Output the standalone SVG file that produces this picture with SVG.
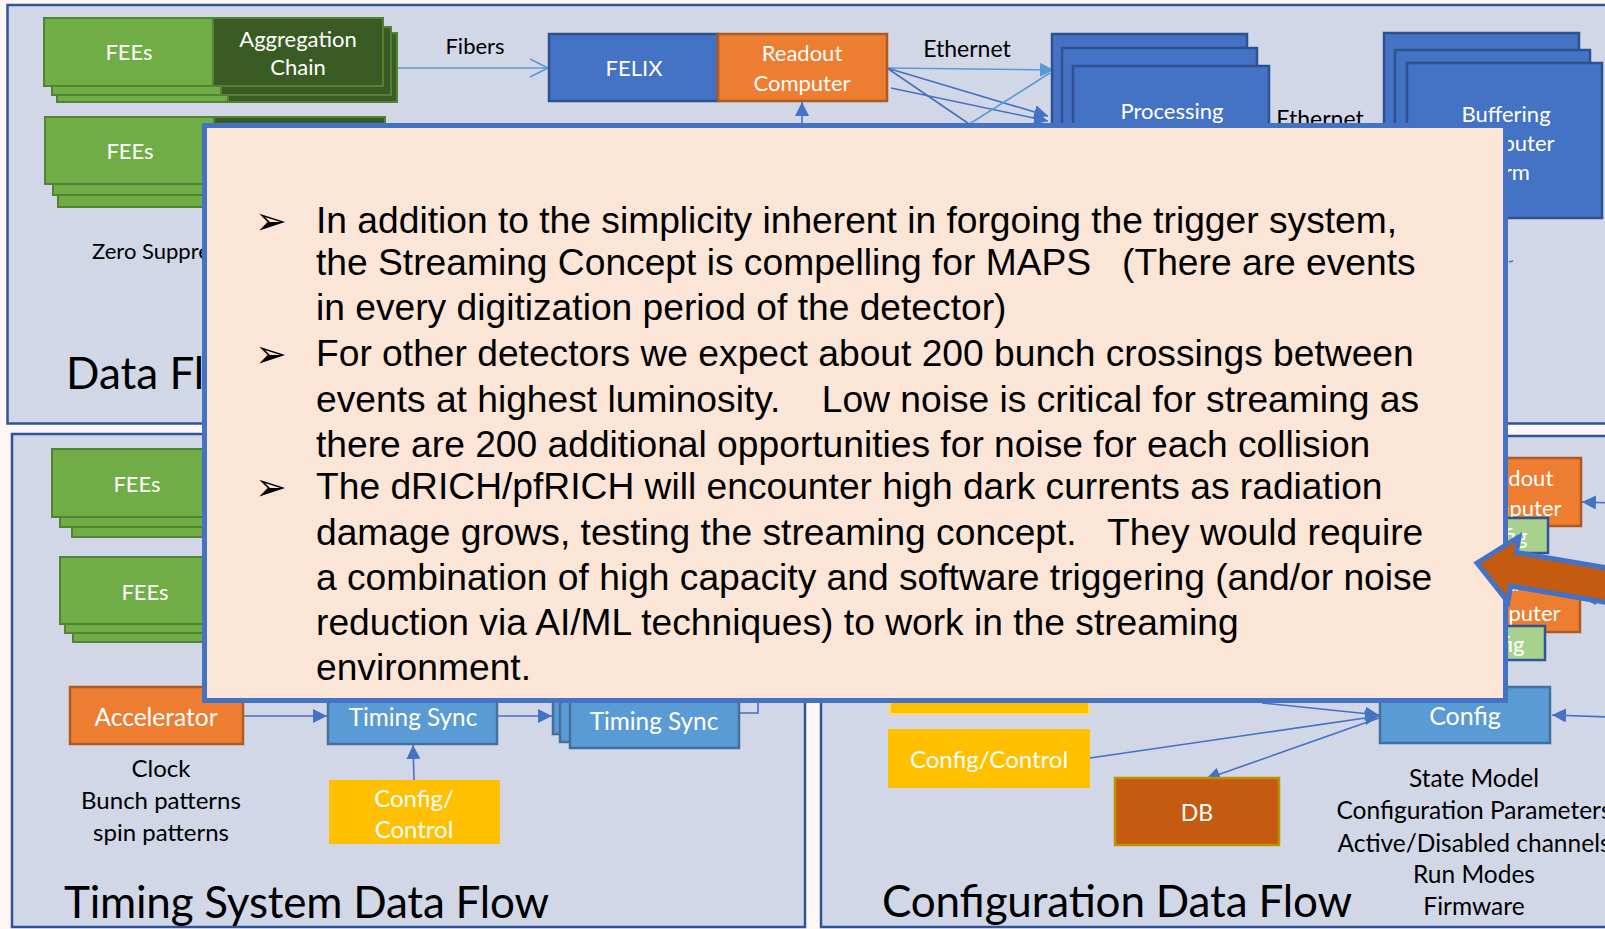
<svg xmlns="http://www.w3.org/2000/svg" width="1605" height="929" viewBox="0 0 1605 929">
<defs>
<style>
.panel{fill:#D1D7E7;stroke:#2F5597;stroke-width:2.5}
.fee{fill:#70AD47;stroke:#548235;stroke-width:2}
.agg{fill:#3A5C24;stroke:#548235;stroke-width:2}
.blue{fill:#4472C4;stroke:#2F528F;stroke-width:2.5}
.orange{fill:#ED7D31;stroke:#AE5A21;stroke-width:2.5}
.lblue{fill:#5B9BD5;stroke:#41719C;stroke-width:2.5}
.yellow{fill:#FFC000}
.green{fill:#A9D18E;stroke:#2F5597;stroke-width:2.5}
.w{font-family:Lato,"Open Sans",sans-serif;font-size:22px;fill:#FFFFFF;text-anchor:middle;dominant-baseline:central}
.k{font-family:Lato,"Open Sans",sans-serif;font-size:22px;fill:#000000;text-anchor:middle;dominant-baseline:central}
.n{font-family:Lato,"Open Sans",sans-serif;font-size:24.5px;fill:#000000;text-anchor:middle;dominant-baseline:central}
.title{font-family:Lato,"Open Sans",sans-serif;font-size:44px;fill:#000000}
.body{font-family:"Liberation Sans",Arial,sans-serif;font-size:37.2px;fill:#000000;white-space:pre}
.bul{font-family:"DejaVu Sans",sans-serif;font-size:38px;fill:#000000}
.cD{stroke:#4472C4;stroke-width:1.6;fill:none}
.cL{stroke:#5B9BD5;stroke-width:1.6;fill:none}
</style>
<marker id="aD" viewBox="0 0 10 10" refX="10" refY="5" markerWidth="14" markerHeight="14" markerUnits="userSpaceOnUse" orient="auto"><path d="M0,0 L10,5 L0,10 z" fill="#4472C4"/></marker>
<marker id="aL" viewBox="0 0 10 10" refX="10" refY="5" markerWidth="14" markerHeight="14" markerUnits="userSpaceOnUse" orient="auto"><path d="M0,0 L10,5 L0,10 z" fill="#5B9BD5"/></marker>
<marker id="aO" viewBox="0 0 20 20" refX="19" refY="10" markerWidth="20" markerHeight="20" markerUnits="userSpaceOnUse" orient="auto"><path d="M1,1 L19,10 L1,19" fill="none" stroke="#5B9BD5" stroke-width="1.6"/></marker>
</defs>
<rect x="0" y="0" width="1605" height="929" fill="#FEF6F4"/>

<g id="panel-dataflow">
<rect class="panel" x="7.5" y="5" width="1640" height="418.5"/>
<text class="title" x="66" y="389">Data Fl</text>
</g>
<g id="panel-timing">
<rect class="panel" x="12" y="434" width="793" height="493"/>
<text class="title" x="64" y="918" textLength="485">Timing System Data Flow</text>
</g>
<g id="panel-config">
<rect class="panel" x="821" y="436" width="820" height="491"/>
<text class="title" x="882" y="917" textLength="470">Configuration Data Flow</text>
</g>

<g id="connectors">
<line class="cL" x1="397" y1="68" x2="548" y2="68" marker-end="url(#aO)"/>
<line class="cD" x1="802" y1="126" x2="802" y2="102" marker-end="url(#aD)"/>
<line class="cL" x1="887" y1="68" x2="1054" y2="70" marker-end="url(#aL)"/>
<line class="cD" x1="887" y1="68" x2="1048" y2="116" marker-end="url(#aD)"/>
<line class="cD" x1="887" y1="68" x2="975" y2="128"/>
<line class="cD" x1="891" y1="88" x2="1048" y2="121" marker-end="url(#aD)"/>
<line class="cL" x1="963" y1="128" x2="1050" y2="73"/>
<path class="cD" d="M1509,262 l4,-1"/>
<line class="cD" x1="243" y1="716" x2="327" y2="716" marker-end="url(#aD)"/>
<line class="cD" x1="497" y1="716" x2="552" y2="716" marker-end="url(#aD)"/>
<line class="cD" x1="414" y1="780" x2="413" y2="745" marker-end="url(#aD)"/>
<path class="cD" d="M739,713 H758 V700"/>
<line class="cD" x1="1262" y1="703" x2="1379" y2="715" marker-end="url(#aD)"/>
<line class="cD" x1="1090" y1="758" x2="1379" y2="716" marker-end="url(#aD)"/>
<line class="cD" x1="1379" y1="718" x2="1206" y2="779" marker-end="url(#aD)"/>
<line class="cD" x1="1610" y1="717" x2="1552" y2="715" marker-end="url(#aD)"/>
<line class="cD" x1="1610" y1="503" x2="1582" y2="502" marker-end="url(#aD)"/>
<line class="cD" x1="1610" y1="598" x2="1582" y2="598" marker-end="url(#aD)"/>
</g>

<g id="fees-1">
<rect class="fee" x="57" y="33" width="171" height="69"/>
<rect class="fee" x="52" y="27" width="169" height="68"/>
<rect class="fee" x="44" y="18" width="169" height="68"/>
<text class="w" x="129" y="51">FEEs</text>
</g>
<g id="aggregation-1">
<rect class="agg" x="228" y="33" width="169" height="69"/>
<rect class="agg" x="221" y="27" width="170" height="68"/>
<rect class="agg" x="213" y="18" width="170" height="68"/>
<text class="w" x="298" y="38">Aggregation</text>
<text class="w" x="298" y="66">Chain</text>
</g>
<g id="fees-2">
<rect class="fee" x="58" y="133" width="171" height="74"/>
<rect class="fee" x="53" y="126" width="169" height="69"/>
<rect class="fee" x="45" y="117" width="169" height="67"/>
<text class="w" x="130" y="150">FEEs</text>
</g>
<g id="aggregation-2">
<rect class="agg" x="229" y="133" width="169" height="74"/>
<rect class="agg" x="222" y="126" width="170" height="69"/>
<rect class="agg" x="214" y="117" width="171" height="67"/>
</g>
<g id="zero-suppression">
<text class="k" x="92" y="250" style="text-anchor:start">Zero Suppression</text>
</g>
<g id="felix">
<rect class="blue" x="549" y="34" width="169" height="67"/>
<text class="w" x="634" y="67">FELIX</text>
</g>
<g id="readout-computer">
<rect class="orange" x="718" y="34" width="169" height="67"/>
<text class="w" x="802" y="52">Readout</text>
<text class="w" x="802" y="82">Computer</text>
</g>
<g id="labels-top">
<text class="k" x="475" y="45">Fibers</text>
<text class="k" x="967" y="48" style="font-size:23px">Ethernet</text>
<text class="k" x="1320" y="118" style="font-size:23px">Ethernet</text>
</g>
<g id="processing">
<rect class="blue" x="1052" y="34" width="195" height="200"/>
<rect class="blue" x="1062" y="48" width="195" height="200"/>
<rect class="blue" x="1073" y="66" width="196" height="200"/>
<text class="w" x="1172" y="110">Processing</text>
</g>
<g id="buffering">
<rect class="blue" x="1384" y="33" width="195" height="155"/>
<rect class="blue" x="1395" y="50" width="195" height="155"/>
<rect class="blue" x="1407" y="63" width="195" height="155"/>
<text class="w" x="1506" y="113">Buffering</text>
<text class="w" x="1506" y="142">Computer</text>
<text class="w" x="1506" y="171">Farm</text>
</g>

<g id="timing-fees-1">
<rect class="fee" x="72" y="470" width="170" height="67"/>
<rect class="fee" x="60" y="460" width="170" height="67"/>
<rect class="fee" x="52" y="449" width="170" height="68"/>
<text class="w" x="137" y="483">FEEs</text>
</g>
<g id="timing-fees-2">
<rect class="fee" x="73" y="575" width="170" height="67"/>
<rect class="fee" x="65" y="566" width="170" height="67"/>
<rect class="fee" x="60" y="557" width="170" height="67"/>
<text class="w" x="145" y="591">FEEs</text>
</g>
<g id="accelerator">
<rect class="orange" x="70" y="687" width="173" height="57"/>
<text class="w" x="156" y="716" style="font-size:24.5px">Accelerator</text>
</g>
<g id="accelerator-notes">
<text class="n" x="161" y="767" style="font-size:24px">Clock</text>
<text class="n" x="161" y="799" style="font-size:24px">Bunch patterns</text>
<text class="n" x="161" y="831" style="font-size:24px">spin patterns</text>
</g>
<g id="timing-sync-1">
<rect class="lblue" x="328" y="687" width="169" height="57"/>
<text class="w" x="413" y="716" style="font-size:24.3px">Timing Sync</text>
</g>
<g id="timing-sync-2">
<rect class="lblue" x="553" y="674" width="169" height="60"/>
<rect class="lblue" x="560" y="682" width="169" height="60"/>
<rect class="lblue" x="570" y="688" width="169" height="60"/>
<text class="w" x="654" y="720" style="font-size:24.3px">Timing Sync</text>
</g>
<g id="timing-config-control">
<rect class="yellow" x="329" y="780" width="171" height="64"/>
<text class="w" x="414" y="797" style="font-size:24px">Config/</text>
<text class="w" x="414" y="828" style="font-size:24px">Control</text>
</g>

<g id="config-control-hidden">
<rect class="yellow" x="890" y="650" width="199" height="64" stroke="#FFD966" stroke-width="2"/>
</g>
<g id="config-control">
<rect class="yellow" x="888" y="729" width="202" height="59"/>
<text class="w" x="989" y="758" style="font-size:24px">Config/Control</text>
</g>
<g id="db">
<rect x="1115" y="778" width="164" height="67" fill="#C55A11" stroke="#BF9000" stroke-width="2.5"/>
<text class="w" x="1197" y="812" style="font-size:23px">DB</text>
</g>
<g id="config">
<rect class="lblue" x="1380" y="687" width="170" height="56"/>
<text class="w" x="1465" y="715" style="font-size:25px">Config</text>
</g>
<g id="config-notes">
<text class="n" x="1474" y="777">State Model</text>
<text class="n" x="1474" y="809">Configuration Parameters</text>
<text class="n" x="1474" y="842">Active/Disabled channels</text>
<text class="n" x="1474" y="873">Run Modes</text>
<text class="n" x="1474" y="905">Firmware</text>
</g>
<g id="readout-computer-r1">
<rect class="orange" x="1445" y="458" width="136" height="68"/>
<text class="w" x="1513" y="477">Readout</text>
<text class="w" x="1513" y="507">Computer</text>
</g>
<g id="config-r1">
<rect class="green" x="1444" y="518" width="104" height="35"/>
<text class="w" x="1496" y="535">Config</text>
</g>
<g id="readout-computer-r2">
<rect class="orange" x="1445" y="563" width="135" height="69"/>
<text class="w" x="1512" y="582">Readout</text>
<text class="w" x="1512" y="612">Computer</text>
</g>
<g id="config-r2">
<rect class="green" x="1440" y="626" width="105" height="34"/>
<text class="w" x="1493" y="643">Config</text>
</g>

<g id="callout">
<rect x="204.5" y="125.5" width="1301" height="575" fill="#FBE5D6" stroke="#4472C4" stroke-width="5"/>
<text class="bul" x="255" y="234">➢</text>
<text class="bul" x="255" y="367">➢</text>
<text class="bul" x="255" y="500">➢</text>
<text class="body" x="316" y="233">In addition to the simplicity inherent in forgoing the trigger system,</text>
<text class="body" x="316" y="275">the Streaming Concept is compelling for MAPS   (There are events</text>
<text class="body" x="316" y="320">in every digitization period of the detector)</text>
<text class="body" x="316" y="366">For other detectors we expect about 200 bunch crossings between</text>
<text class="body" x="316" y="412">events at highest luminosity.    Low noise is critical for streaming as</text>
<text class="body" x="316" y="457">there are 200 additional opportunities for noise for each collision</text>
<text class="body" x="316" y="499">The dRICH/pfRICH will encounter high dark currents as radiation</text>
<text class="body" x="316" y="545">damage grows, testing the streaming concept.   They would require</text>
<text class="body" x="316" y="590">a combination of high capacity and software triggering (and/or noise</text>
<text class="body" x="316" y="635">reduction via AI/ML techniques) to work in the streaming</text>
<text class="body" x="316" y="680">environment.</text>
</g>
<g id="big-arrow">
<polygon transform="translate(1477,563) rotate(9.7)" points="0,0 37,-33 37,-17 160,-17 160,17 37,17 37,33" fill="#C55A11" stroke="#4472C4" stroke-width="5" stroke-linejoin="miter"/>
</g>
</svg>
